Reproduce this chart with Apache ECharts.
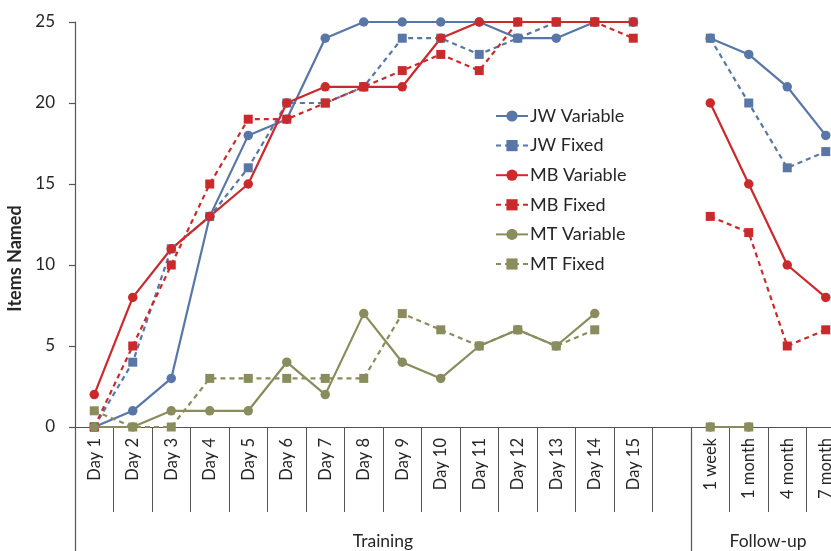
<!DOCTYPE html>
<html>
<head>
<meta charset="utf-8">
<title>Items Named</title>
<script src="https://cdn.jsdelivr.net/npm/echarts@6/dist/echarts.min.js"></script>
<style>
  html, body { margin: 0; padding: 0; background: #fff; }
  #chart { width: 831px; height: 551px; }
</style>
</head>
<body>
<div id="chart"></div>
<script>
// Session labels along the x axis; the empty slot separates training from follow-up.
const categories = ['Day 1', 'Day 2', 'Day 3', 'Day 4', 'Day 5', 'Day 6', 'Day 7', 'Day 8',
  'Day 9', 'Day 10', 'Day 11', 'Day 12', 'Day 13', 'Day 14', 'Day 15', '',
  '1 week', '1 month', '4 month', '7 month'];

// Phase groups drawn under the session labels and how many slots each covers.
const groupNames = ['Training', 'Follow-up'];
const groupSizes = [16, 4];

// Items named per session (null = no probe).
const jwVariable = [0, 1, 3, 13, 18, 19, 24, 25, 25, 25, 25, 24, 24, 25, 25, null, 24, 23, 21, 18];
const jwFixed    = [0, 4, 11, 13, 16, 20, 20, 21, 24, 24, 23, 24, 25, 25, 25, null, 24, 20, 16, 17];
const mbVariable = [2, 8, 11, 13, 15, 20, 21, 21, 21, 24, 25, 25, 25, 25, 25, null, 20, 15, 10, 8];
const mbFixed    = [0, 5, 10, 15, 19, 19, 20, 21, 22, 23, 22, 25, 25, 25, 24, null, 13, 12, 5, 6];
const mtVariable = [0, 0, 1, 1, 1, 4, 2, 7, 4, 3, 5, 6, 5, 7, null, null, 0, 0, null, null];
const mtFixed    = [1, 0, 0, 3, 3, 3, 3, 3, 7, 6, 5, 6, 5, 6, null, null, 0, 0, null, null];

const yTicks = { min: 0, max: 25, interval: 5 };

const BLUE = '#5877a6';
const RED = '#cb2a2c';
const OLIVE = '#8a8c5d';
const AXIS = '#555555';
const TEXT = '#262626';
const FONT = 'Lato, "Open Sans", sans-serif';

// Group boundaries and centres in slot units.
const groupEdges = [0];
const groupCenters = [];
groupSizes.forEach(function (n, i) {
  groupCenters.push(groupEdges[i] + n / 2);
  groupEdges.push(groupEdges[i] + n);
});
const totalSlots = groupEdges[groupEdges.length - 1];

function lineSeries(name, data, color, dashed, symbol) {
  return {
    name: name,
    type: 'line',
    data: data,
    connectNulls: false,
    symbol: symbol,
    symbolSize: symbol === 'rect' ? 9 : 9.5,
    showSymbol: true,
    lineStyle: { color: color, width: 2.2, type: dashed ? [5, 4] : 'solid' },
    itemStyle: { color: color },
    emphasis: { disabled: true },
    animation: false
  };
}

const chart = echarts.init(document.getElementById('chart'), null, { renderer: 'canvas' });

chart.setOption({
  backgroundColor: '#ffffff',
  textStyle: { fontFamily: FONT },
  // The plot runs past the right edge of the canvas, so the last slot is cut off.
  grid: {
    left: 75, top: 22, width: 770, height: 405,
    containLabel: false, outerBoundsMode: 'none'
  },
  legend: {
    orient: 'vertical',
    left: 490,
    top: 102,
    itemWidth: 32,
    itemHeight: 14,
    itemGap: 11.6,
    textStyle: {
      fontSize: 18, lineHeight: 16, color: TEXT, fontFamily: FONT, padding: [0, 0, 0, -3]
    },
    data: ['JW Variable', 'JW Fixed', 'MB Variable', 'MB Fixed', 'MT Variable', 'MT Fixed']
  },
  xAxis: [
    {
      type: 'category',
      data: categories,
      boundaryGap: true,
      axisLine: { show: true, lineStyle: { color: AXIS, width: 1.2 } },
      axisTick: { show: true, interval: 0, length: 85, lineStyle: { color: AXIS, width: 1 } },
      axisLabel: {
        interval: 0, rotate: 90, fontSize: 16.5, color: TEXT, margin: 11, fontFamily: FONT
      },
      splitLine: { show: false }
    },
    {
      type: 'value',
      position: 'bottom',
      min: 0,
      max: totalSlots,
      axisLine: { show: false },
      axisTick: {
        show: true, customValues: groupEdges, length: 124,
        lineStyle: { color: AXIS, width: 1.2 }
      },
      axisLabel: {
        show: true,
        customValues: groupCenters,
        margin: 105,
        fontSize: 17.5,
        color: TEXT,
        fontFamily: FONT,
        formatter: function (v) {
          const i = groupCenters.indexOf(v);
          return i >= 0 ? groupNames[i] : '';
        }
      },
      splitLine: { show: false }
    }
  ],
  yAxis: {
    type: 'value',
    min: yTicks.min,
    max: yTicks.max,
    interval: yTicks.interval,
    name: 'Items Named',
    nameLocation: 'middle',
    nameGap: 38,
    nameTextStyle: {
      fontSize: 18, fontWeight: 'bold', color: TEXT, fontFamily: FONT,
      padding: [0, 68, 0, 0]
    },
    axisLine: { show: true, lineStyle: { color: AXIS, width: 1.2 } },
    axisTick: { show: true, length: 6, lineStyle: { color: AXIS, width: 1.2 } },
    axisLabel: { fontSize: 17, color: TEXT, margin: 20, fontFamily: FONT },
    splitLine: { show: false }
  },
  series: [
    lineSeries('JW Variable', jwVariable, BLUE, false, 'circle'),
    lineSeries('JW Fixed', jwFixed, BLUE, true, 'rect'),
    lineSeries('MB Variable', mbVariable, RED, false, 'circle'),
    lineSeries('MB Fixed', mbFixed, RED, true, 'rect'),
    lineSeries('MT Variable', mtVariable, OLIVE, false, 'circle'),
    lineSeries('MT Fixed', mtFixed, OLIVE, true, 'rect')
  ]
});
</script>
</body>
</html>
